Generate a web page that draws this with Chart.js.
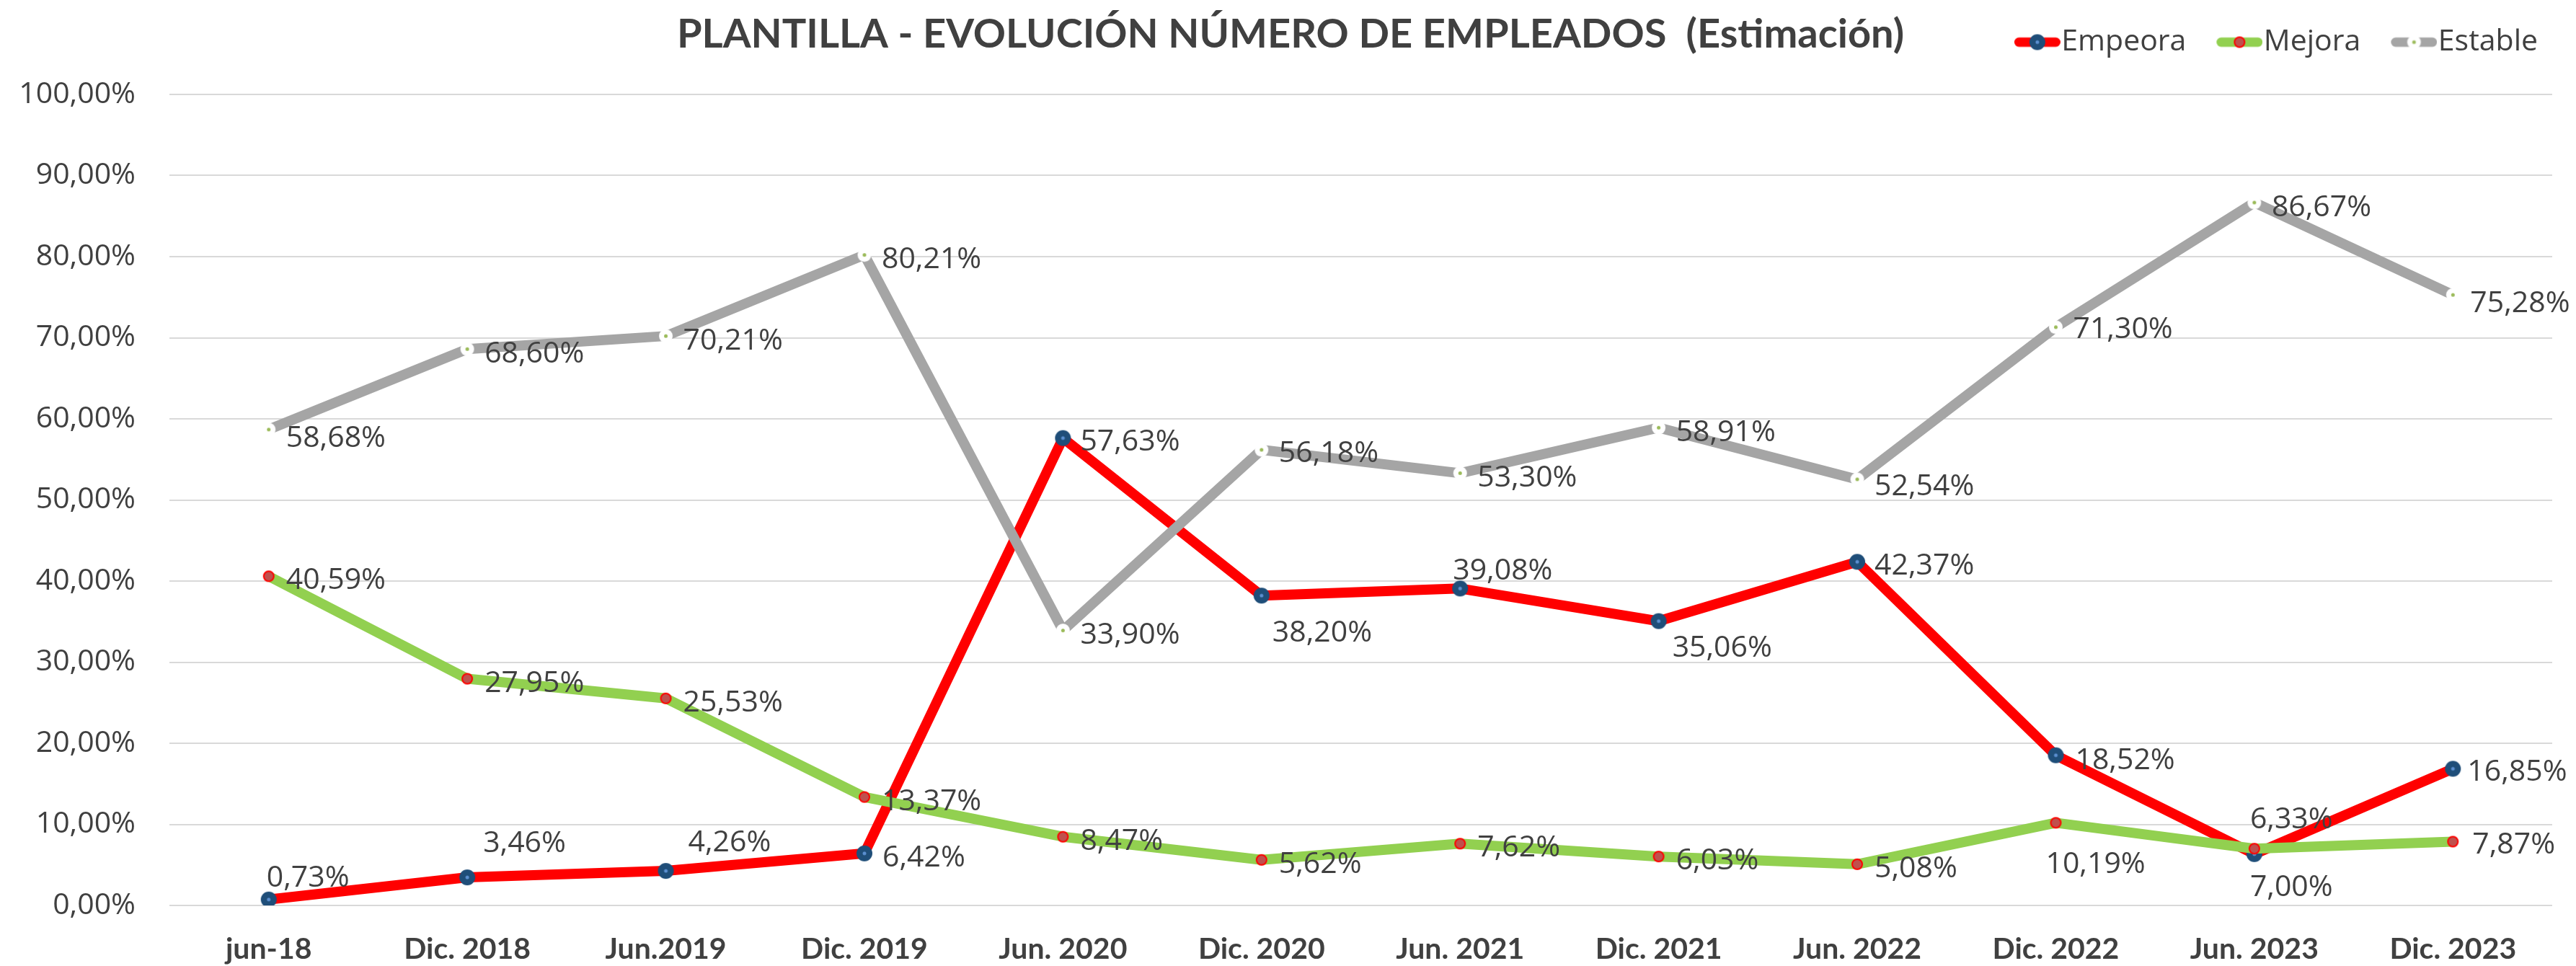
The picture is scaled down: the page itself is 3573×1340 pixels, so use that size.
<!DOCTYPE html>
<html>
<head>
<meta charset="utf-8">
<script src="https://cdn.jsdelivr.net/npm/chart.js@4.4.1/dist/chart.umd.min.js"></script>
<style>
  html, body { margin: 0; padding: 0; background: #fff; }
  #wrap { width: 3573px; height: 1340px; }
</style>
</head>
<body>
<div id="wrap"><canvas id="chart"></canvas></div>
<script>
const categories = ["jun-18", "Dic. 2018", "Jun.2019", "Dic. 2019", "Jun. 2020", "Dic. 2020",
  "Jun. 2021", "Dic. 2021", "Jun. 2022", "Dic. 2022", "Jun. 2023", "Dic. 2023"];
const empeora = [0.73, 3.46, 4.26, 6.42, 57.63, 38.20, 39.08, 35.06, 42.37, 18.52, 6.33, 16.85];
const mejora = [40.59, 27.95, 25.53, 13.37, 8.47, 5.62, 7.62, 6.03, 5.08, 10.19, 7.00, 7.87];
const estable = [58.68, 68.60, 70.21, 80.21, 33.90, 56.18, 53.30, 58.91, 52.54, 71.30, 86.67, 75.28];
const yTickValues = [0, 10, 20, 30, 40, 50, 60, 70, 80, 90, 100];

// where each value label sits relative to its point (dx to left edge, dy to text middle)
const empeoraLabelPos = [[-3, -33], [22, -50], [31, -42], [25, 3], [24, 2], [15, 49],
  [-10, -27], [19, 34], [24, 3], [27, 4], [-6, -51], [20, 2]];
const mejoraLabelPos = [[24, 3], [24, 3], [24, 3], [24, 3], [24, 3], [24, 3],
  [24, 3], [24, 3], [24, 3], [-14, 55], [-6, 51], [27, 2]];
const estableLabelPos = [[24, 9], [24, 4], [24, 4], [24, 3], [24, 3], [24, 2],
  [24, 4], [24, 4], [24, 7], [24, 0], [24, 4], [24, 9]];

const TEXT = "#404040";
const FONT = "'Open Sans'";
const BOLD_FONT = "Lato";

const pct = v => v.toFixed(2).replace(".", ",") + "%";

function marker(r, fill, stroke, sw, dotR, dotColor) {
  const c = document.createElement("canvas");
  const s = Math.ceil(2 * r + sw + 2);
  c.width = s; c.height = s;
  const g = c.getContext("2d");
  g.beginPath();
  g.arc(s / 2, s / 2, r, 0, Math.PI * 2);
  g.fillStyle = fill;
  g.fill();
  if (sw) { g.lineWidth = sw; g.strokeStyle = stroke; g.stroke(); }
  if (dotR) {
    g.beginPath();
    g.arc(s / 2, s / 2, dotR, 0, Math.PI * 2);
    g.fillStyle = dotColor;
    g.fill();
  }
  return c;
}

// legend swatch: transparent on the left so the line sits right against the text
function legendIcon(lineColor, mark) {
  const c = document.createElement("canvas");
  c.width = 105; c.height = 30;
  const g = c.getContext("2d");
  g.lineCap = "round";
  g.lineWidth = 13;
  g.strokeStyle = lineColor;
  g.beginPath();
  g.moveTo(41 + 6.5, 15);
  g.lineTo(105 - 6.5, 15);
  g.stroke();
  g.drawImage(mark, 73 - mark.width / 2, 15 - mark.height / 2);
  return c;
}

const mEmpeora = marker(11, "#1F4E79", null, 0, 2.5, "#5B8FD0");
const mMejora = marker(7, "#C0504D", "#FF0000", 2, 0, null);
const mEstable = marker(9.5, "#FFFFFF", null, 0, 2.5, "#9BBB59");

const valueLabels = {
  id: "valueLabels",
  afterDatasetsDraw(chart) {
    const ctx = chart.ctx;
    ctx.save();
    ctx.font = "41px " + FONT;
    ctx.fillStyle = TEXT;
    ctx.textAlign = "left";
    ctx.textBaseline = "alphabetic";
    chart.data.datasets.forEach((ds, i) => {
      const meta = chart.getDatasetMeta(i);
      meta.data.forEach((pt, j) => {
        const [dx, dy] = ds.labelPos[j];
        ctx.fillText(pct(ds.data[j]), pt.x + dx, pt.y + dy + 15);
      });
    });
    ctx.restore();
  }
};

const headline = {
  id: "headline",
  afterDraw(chart) {
    const ctx = chart.ctx;
    ctx.save();
    ctx.font = "bold 56px " + BOLD_FONT;
    ctx.fillStyle = TEXT;
    ctx.textAlign = "center";
    ctx.textBaseline = "alphabetic";
    ctx.fillText("PLANTILLA - EVOLUCIÓN NÚMERO DE EMPLEADOS  (Estimación)", 1790, 66);
    ctx.restore();
  }
};

new Chart(document.getElementById("chart"), {
  type: "line",
  data: {
    labels: categories,
    datasets: [
      {
        label: "Empeora", data: empeora, labelPos: empeoraLabelPos, order: 2,
        borderColor: "#FF0000", borderWidth: 14, pointStyle: mEmpeora, icon: legendIcon("#FF0000", mEmpeora)
      },
      {
        label: "Mejora", data: mejora, labelPos: mejoraLabelPos, order: 1,
        borderColor: "#92D050", borderWidth: 14, pointStyle: mMejora, icon: legendIcon("#92D050", mMejora)
      },
      {
        label: "Estable", data: estable, labelPos: estableLabelPos, order: 0,
        borderColor: "#A5A5A5", borderWidth: 14, pointStyle: mEstable, icon: legendIcon("#A5A5A5", mEstable)
      }
    ]
  },
  options: {
    responsive: true,
    maintainAspectRatio: false,
    animation: false,
    elements: {
      line: { tension: 0, borderJoinStyle: "round", borderCapStyle: "round" },
      point: { radius: 11, hoverRadius: 11 }
    },
    layout: { padding: { left: 0, right: 33, top: 18, bottom: 0 } },
    plugins: {
      legend: {
        position: "top",
        align: "end",
        labels: {
          usePointStyle: true,
          pointStyleWidth: 67,
          padding: 20,
          color: TEXT,
          font: { family: FONT, size: 41 },
          generateLabels(chart) {
            return chart.data.datasets.map((ds, i) => ({
              text: ds.label,
              pointStyle: ds.icon,
              fillStyle: ds.borderColor,
              strokeStyle: ds.borderColor,
              lineWidth: 0,
              hidden: false,
              fontColor: TEXT,
              datasetIndex: i
            }));
          }
        }
      },
      // empty spacer between the legend row and the plot
      subtitle: {
        display: true,
        text: "",
        weight: 500,
        padding: 0,
        font: { size: 42, lineHeight: 1 }
      },
      title: { display: false },
      tooltip: { enabled: false }
    },
    scales: {
      x: {
        offset: true,
        grid: { display: false, drawTicks: false },
        border: { display: false },
        ticks: {
          padding: 36,
          color: TEXT,
          font: { family: BOLD_FONT, size: 41, weight: "bold" },
          maxRotation: 0,
          autoSkip: false
        },
        afterFit(scale) { scale.height = 84; }
      },
      y: {
        min: 0,
        max: 100,
        afterBuildTicks(scale) { scale.ticks = yTickValues.map(v => ({ value: v })); },
        grid: { color: "#D9D9D9", lineWidth: 2, drawTicks: false },
        border: { display: false },
        ticks: {
          padding: 47,
          color: TEXT,
          font: { family: FONT, size: 41 },
          callback: v => pct(v)
        },
        afterFit(scale) { scale.width = 235; }
      }
    }
  },
  plugins: [valueLabels, headline]
});
</script>
</body>
</html>
